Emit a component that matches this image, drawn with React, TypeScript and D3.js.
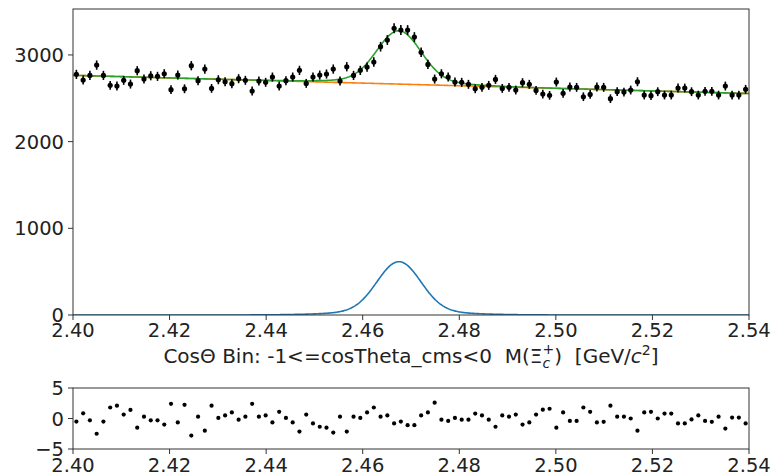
import React from "react";
import * as d3 from "d3";

// ---- data ----
const X_MIN = 2.4;
const X_MAX = 2.54;
const N_BINS = 100;
const X_TICKS = [2.4, 2.42, 2.44, 2.46, 2.48, 2.5, 2.52, 2.54];
const Y_TICKS = [0, 1000, 2000, 3000];
const PULL_TICKS = [-5, 0, 5];

const counts = [
  2776, 2710, 2764, 2883, 2764, 2649, 2641, 2707, 2664, 2818,
  2722, 2760, 2753, 2783, 2599, 2768, 2610, 2876, 2703, 2837,
  2614, 2714, 2691, 2668, 2726, 2707, 2584, 2699, 2684, 2745,
  2641, 2703, 2745, 2822, 2672, 2745, 2768, 2780, 2837, 2699,
  2864, 2764, 2822, 2860, 2918, 3095, 3172, 3307, 3287, 3287,
  3206, 3030, 2891, 2722, 2783, 2745, 2687, 2684, 2661, 2610,
  2626, 2649, 2718, 2614, 2626, 2595, 2680, 2661, 2591, 2549,
  2534, 2687, 2557, 2630, 2626, 2518, 2545, 2630, 2626, 2495,
  2576, 2572, 2595, 2691, 2537, 2530, 2576, 2537, 2537, 2618,
  2618, 2576, 2537, 2580, 2580, 2537, 2641, 2537, 2537, 2603,
];

const pulls = [
  -0.5, 0.85, -0.3, -2.5, -0.5, 1.8, 2.1, 0.65, 1.4, -1.5,
  0.3, -0.3, -0.3, -1.0, 2.4, -0.65, 2.25, -2.8, 0.3, -2.0,
  2.1, 0.1, 0.5, 1.0, -0.2, 0.3, 2.4, 0.3, 0.5, -0.65,
  1.1, 0.1, -0.65, -2.15, 0.65, -0.8, -1.35, -1.5, -2.3, 0.3,
  -2.15, 0.3, 0.1, 1.0, 1.8, 0.3, 0.5, -0.8, -0.5, -1.1,
  -1.1, 0.5, 1.0, 2.6, -0.2, -0.4, 0.1, -0.2, -0.2, 0.8,
  0.5, -0.2, -1.35, 0.5, 0.3, 0.65, -1.0, -0.65, 0.65, 1.45,
  1.6, -1.5, 1.0, -0.4, -0.4, 1.8, 1.1, -0.65, -0.55, 2.1,
  0.3, 0.3, 0.0, -2.0, 1.0, 1.1, 0.0, 0.8, 0.8, -0.8,
  -0.8, -0.15, 0.5, -0.4, -0.55, 0.3, -1.65, 0.15, 0.15, -0.8,
];

// fit model parameters
const BKG_AT_MIN = 2765;
const BKG_AT_MAX = 2555;
const SIG_MEAN = 2.4675;
const SIG_CORE_AMP = 570;
const SIG_CORE_SIGMA = 0.0045;
const SIG_WIDE_AMP = 45;
const SIG_WIDE_SIGMA = 0.011;

const bkg = (x: number) =>
  BKG_AT_MIN + ((BKG_AT_MAX - BKG_AT_MIN) * (x - X_MIN)) / (X_MAX - X_MIN);
const sig = (x: number) =>
  SIG_CORE_AMP * Math.exp(-((x - SIG_MEAN) ** 2) / (2 * SIG_CORE_SIGMA ** 2)) +
  SIG_WIDE_AMP * Math.exp(-((x - SIG_MEAN) ** 2) / (2 * SIG_WIDE_SIGMA ** 2));

const FONT = "DejaVu Sans";
const W = 772;
const H = 475;

export default function App() {
  const left = 73;
  const right = 749;
  const mainTop = 9;
  const mainBottom = 315;
  const pullTop = 388;
  const pullBottom = 449;

  const x = d3.scaleLinear().domain([X_MIN, X_MAX]).range([left, right]);
  const y = d3.scaleLinear().domain([0, 3530]).range([mainBottom, mainTop]);
  const yp = d3.scaleLinear().domain([-5, 5]).range([pullBottom, pullTop]);

  const binW = (X_MAX - X_MIN) / N_BINS;
  const centers = counts.map((_, i) => X_MIN + binW * (i + 0.5));

  const grid = d3.range(0, 701).map((k) => X_MIN + ((X_MAX - X_MIN) * k) / 700);
  const line = d3
    .line<number>()
    .x((d) => x(d))
    .curve(d3.curveLinear);
  const bkgPath = line.y((d) => y(bkg(d)))(grid) || "";
  const totPath = line.y((d) => y(bkg(d) + sig(d)))(grid) || "";
  const sigPath = line.y((d) => y(sig(d)))(grid) || "";

  const tickFont = 19.5;
  const fmt = d3.format(".2f");

  return (
    <svg width={W} height={H} style={{ position: "absolute", left: 0, top: 0 }} fontFamily={FONT}>
      <rect width={W} height={H} fill="white" />
      {/* main panel */}
      <defs>
        <clipPath id="mainClip">
          <rect x={left} y={mainTop} width={right - left} height={mainBottom - mainTop} />
        </clipPath>
      </defs>
      <g clipPath="url(#mainClip)">
        <path d={bkgPath} fill="none" stroke="#ff7f0e" strokeWidth={1.6} />
        <path d={totPath} fill="none" stroke="#2ca02c" strokeWidth={1.6} />
        <path d={sigPath} fill="none" stroke="#1f77b4" strokeWidth={1.6} />
        {counts.map((c, i) => {
          const e = Math.sqrt(c);
          return (
            <g key={i}>
              <line x1={x(centers[i])} x2={x(centers[i])} y1={y(c - e)} y2={y(c + e)} stroke="black" strokeWidth={1.6} />
              <circle cx={x(centers[i])} cy={y(c)} r={2.6} fill="black" />
            </g>
          );
        })}
      </g>
      <rect x={left} y={mainTop} width={right - left} height={mainBottom - mainTop} fill="none" stroke="#333" strokeWidth={1} />
      {Y_TICKS.map((t) => (
        <g key={t}>
          <line x1={left - 5} x2={left} y1={y(t)} y2={y(t)} stroke="#333" strokeWidth={1} />
          <text x={left - 9} y={y(t)} dy="0.36em" textAnchor="end" fontSize={tickFont} fill="#222">
            {t}
          </text>
        </g>
      ))}
      {X_TICKS.map((t) => (
        <g key={t}>
          <line x1={x(t)} x2={x(t)} y1={mainBottom} y2={mainBottom + 5} stroke="#333" strokeWidth={1} />
          <text x={x(t)} y={337} textAnchor="middle" fontSize={tickFont} fill="#222">
            {fmt(t)}
          </text>
        </g>
      ))}
      <text x={(left + right) / 2} y={363} textAnchor="middle" fontSize={20} fill="#222" style={{ whiteSpace: "pre" }}>
        <tspan>{"CosΘ Bin: -1<=cosTheta_cms<0  M("}</tspan>
        <tspan>Ξ</tspan>
        <tspan fontStyle="italic" fontSize={14} dy={5}>c</tspan>
        <tspan fontSize={14} dx={-7.5} dy={-14}>+</tspan>
        <tspan dy={9}>{")  [GeV/"}</tspan>
        <tspan fontStyle="italic">c</tspan>
        <tspan fontSize={14} dy={-8}>2</tspan>
        <tspan dy={8}>]</tspan>
      </text>

      {/* pull panel */}
      {pulls.map((p, i) => (
        <circle key={i} cx={x(centers[i])} cy={yp(p)} r={2.1} fill="black" />
      ))}
      <rect x={left} y={pullTop} width={right - left} height={pullBottom - pullTop} fill="none" stroke="#333" strokeWidth={1} />
      {PULL_TICKS.map((t) => (
        <g key={t}>
          <line x1={left - 5} x2={left} y1={yp(t)} y2={yp(t)} stroke="#333" strokeWidth={1} />
          <text x={left - 9} y={yp(t)} dy="0.36em" textAnchor="end" fontSize={tickFont} fill="#222">
            {t < 0 ? "\u2212" + Math.abs(t) : String(t)}
          </text>
        </g>
      ))}
      {X_TICKS.map((t) => (
        <g key={"p" + t}>
          <line x1={x(t)} x2={x(t)} y1={pullBottom} y2={pullBottom + 5} stroke="#333" strokeWidth={1} />
          <text x={x(t)} y={472} textAnchor="middle" fontSize={tickFont} fill="#222">
            {fmt(t)}
          </text>
        </g>
      ))}
    </svg>
  );
}
